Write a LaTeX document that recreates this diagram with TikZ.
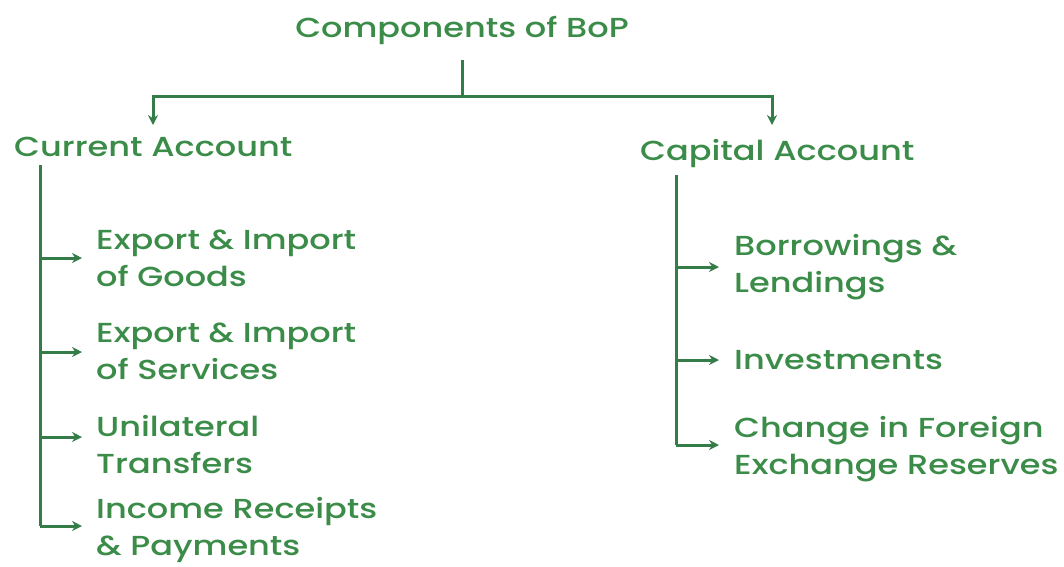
\documentclass[tikz,border=0pt]{standalone}
\usepackage{fontspec}
\setmainfont{Poppins Medium}[FakeStretch=1.22]
\usetikzlibrary{arrows.meta}
\definecolor{txtgreen}{RGB}{58,140,72}
\definecolor{lngreen}{RGB}{52,125,72}
\tikzset{
  lbl/.style={text=txtgreen, font=\fontsize{27.5}{37}\selectfont, inner sep=0pt, anchor=west, align=left},
  conn/.style={draw=lngreen, line width=3pt},
  arr/.style={conn, -{Stealth[length=10pt,width=10pt]}}
}
\begin{document}
\begin{tikzpicture}[x=1pt,y=-1pt]
\useasboundingbox[fill=white] (0,0) rectangle (1064,566);
% texts
\node[lbl, anchor=center] (title) at (462,30) {Components of BoP};
\node[lbl] (current) at (14,147) {Current Account};
\node[lbl] (capital) at (640,154) {Capital Account};
\node[lbl] (goods) at (96,258) {Export \& Import\\of Goods};
\node[lbl] (services) at (96,351) {Export \& Import\\of Services};
\node[lbl] (transfers) at (96,445) {Unilateral\\Transfers};
\node[lbl] (income) at (96,530) {Income Receipts\\\& Payments};
\node[lbl] (borrow) at (734,267) {Borrowings \&\\Lendings};
\node[lbl] (invest) at (734,360) {Investments};
\node[lbl] (change) at (734,449) {Change in Foreign\\Exchange Reserves};
% top tree
\coordinate (stem) at (462,60);
\coordinate (bar) at (462,96);
\coordinate (lt) at (153,125);
\coordinate (rt) at (772,125);
\draw[conn] (stem) -- (bar);
\draw[arr] (bar) -| (lt);
\draw[arr] (bar) -| (rt);
% left trunk
\coordinate (ctop) at (40,165);
\coordinate (c1) at (40,258);
\coordinate (c2) at (40,352);
\coordinate (c3) at (40,437);
\coordinate (c4) at (40,526);
\draw[conn] (ctop) -- (c4);
\draw[arr, shorten >=14pt] (c1) -- (goods.west |- c1);
\draw[arr, shorten >=14pt] (c2) -- (services.west |- c2);
\draw[arr, shorten >=14pt] (c3) -- (transfers.west |- c3);
\draw[arr, shorten >=14pt] (c4) -- (income.west |- c4);
% right trunk
\coordinate (ktop) at (676,175);
\coordinate (k1) at (676,267);
\coordinate (k2) at (676,360);
\coordinate (k3) at (676,445);
\draw[conn] (ktop) -- (k3);
\draw[arr, shorten >=15pt] (k1) -- (borrow.west |- k1);
\draw[arr, shorten >=15pt] (k2) -- (invest.west |- k2);
\draw[arr, shorten >=15pt] (k3) -- (change.west |- k3);
\end{tikzpicture}
\end{document}
